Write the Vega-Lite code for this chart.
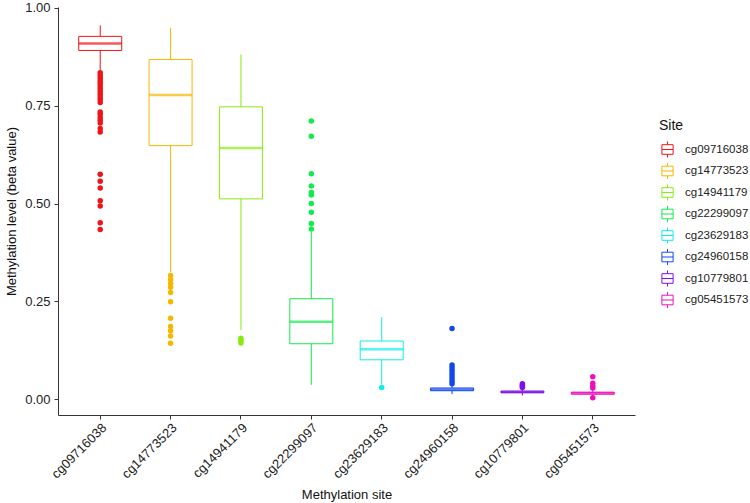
{
  "$schema": "https://vega.github.io/schema/vega-lite/v6.json",
  "width": 577,
  "height": 408,
  "autosize": {"type": "none"},
  "padding": {"left": 58, "top": 7, "right": 115, "bottom": 88},
  "background": "white",
  "config": {
    "view": {"stroke": null},
    "font": "Liberation Sans",
    "axis": {
      "labelFont": "Liberation Sans",
      "labelFontSize": 13,
      "labelColor": "#222222",
      "titleFont": "Liberation Sans",
      "titleFontSize": 13,
      "titleFontWeight": "normal",
      "titleColor": "#111111",
      "tickColor": "#333333",
      "domainColor": "#333333",
      "tickSize": 4,
      "grid": false
    }
  },
  "datasets": {
    "boxes": [
      {"site": "cg09716038", "lower": 0.838, "q1": 0.891, "median": 0.909, "q3": 0.927, "upper": 0.955},
      {"site": "cg14773523", "lower": 0.325, "q1": 0.648, "median": 0.777, "q3": 0.868, "upper": 0.949},
      {"site": "cg14941179", "lower": 0.177, "q1": 0.512, "median": 0.642, "q3": 0.747, "upper": 0.881},
      {"site": "cg22299097", "lower": 0.037, "q1": 0.142, "median": 0.198, "q3": 0.257, "upper": 0.428},
      {"site": "cg23629183", "lower": 0.038, "q1": 0.101, "median": 0.128, "q3": 0.149, "upper": 0.210},
      {"site": "cg24960158", "lower": 0.013, "q1": 0.022, "median": 0.025, "q3": 0.029, "upper": 0.036},
      {"site": "cg10779801", "lower": 0.010, "q1": 0.017, "median": 0.019, "q3": 0.021, "upper": 0.028},
      {"site": "cg05451573", "lower": 0.007, "q1": 0.013, "median": 0.016, "q3": 0.018, "upper": 0.024}
    ],
    "outliers": [
      {"site": "cg09716038", "value": 0.834},
      {"site": "cg09716038", "value": 0.827},
      {"site": "cg09716038", "value": 0.820},
      {"site": "cg09716038", "value": 0.813},
      {"site": "cg09716038", "value": 0.807},
      {"site": "cg09716038", "value": 0.800},
      {"site": "cg09716038", "value": 0.793},
      {"site": "cg09716038", "value": 0.786},
      {"site": "cg09716038", "value": 0.779},
      {"site": "cg09716038", "value": 0.772},
      {"site": "cg09716038", "value": 0.766},
      {"site": "cg09716038", "value": 0.758},
      {"site": "cg09716038", "value": 0.734},
      {"site": "cg09716038", "value": 0.728},
      {"site": "cg09716038", "value": 0.720},
      {"site": "cg09716038", "value": 0.713},
      {"site": "cg09716038", "value": 0.706},
      {"site": "cg09716038", "value": 0.692},
      {"site": "cg09716038", "value": 0.683},
      {"site": "cg09716038", "value": 0.575},
      {"site": "cg09716038", "value": 0.557},
      {"site": "cg09716038", "value": 0.540},
      {"site": "cg09716038", "value": 0.507},
      {"site": "cg09716038", "value": 0.494},
      {"site": "cg09716038", "value": 0.451},
      {"site": "cg09716038", "value": 0.434},
      {"site": "cg14773523", "value": 0.316},
      {"site": "cg14773523", "value": 0.306},
      {"site": "cg14773523", "value": 0.296},
      {"site": "cg14773523", "value": 0.286},
      {"site": "cg14773523", "value": 0.273},
      {"site": "cg14773523", "value": 0.249},
      {"site": "cg14773523", "value": 0.207},
      {"site": "cg14773523", "value": 0.186},
      {"site": "cg14773523", "value": 0.175},
      {"site": "cg14773523", "value": 0.162},
      {"site": "cg14773523", "value": 0.143},
      {"site": "cg14941179", "value": 0.156},
      {"site": "cg14941179", "value": 0.150},
      {"site": "cg14941179", "value": 0.144},
      {"site": "cg22299097", "value": 0.711},
      {"site": "cg22299097", "value": 0.672},
      {"site": "cg22299097", "value": 0.576},
      {"site": "cg22299097", "value": 0.545},
      {"site": "cg22299097", "value": 0.528},
      {"site": "cg22299097", "value": 0.522},
      {"site": "cg22299097", "value": 0.500},
      {"site": "cg22299097", "value": 0.478},
      {"site": "cg22299097", "value": 0.449},
      {"site": "cg22299097", "value": 0.435},
      {"site": "cg23629183", "value": 0.030},
      {"site": "cg24960158", "value": 0.181},
      {"site": "cg24960158", "value": 0.088},
      {"site": "cg24960158", "value": 0.081},
      {"site": "cg24960158", "value": 0.074},
      {"site": "cg24960158", "value": 0.067},
      {"site": "cg24960158", "value": 0.060},
      {"site": "cg24960158", "value": 0.053},
      {"site": "cg24960158", "value": 0.046},
      {"site": "cg24960158", "value": 0.040},
      {"site": "cg10779801", "value": 0.040},
      {"site": "cg10779801", "value": 0.036},
      {"site": "cg10779801", "value": 0.033},
      {"site": "cg10779801", "value": 0.030},
      {"site": "cg05451573", "value": 0.058},
      {"site": "cg05451573", "value": 0.041},
      {"site": "cg05451573", "value": 0.034},
      {"site": "cg05451573", "value": 0.029},
      {"site": "cg05451573", "value": 0.004}
    ]
  },
  "encoding": {
    "x": {
      "field": "site",
      "type": "nominal",
      "sort": ["cg09716038", "cg14773523", "cg14941179", "cg22299097", "cg23629183", "cg24960158", "cg10779801", "cg05451573"],
      "scale": {"type": "band", "paddingInner": 0, "paddingOuter": 0.1},
      "axis": {"title": "Methylation site", "labelAngle": -45, "labelAlign": "right", "labelBaseline": "top", "labelPadding": 2, "titlePadding": 8}
    }
  },
  "layer": [
    {
      "data": {"name": "boxes"},
      "mark": {"type": "rule", "strokeWidth": 1},
      "encoding": {
        "y": {
          "field": "lower",
          "type": "quantitative",
          "scale": {"domain": [-0.04, 1.002], "nice": false, "zero": false},
          "axis": {"title": "Methylation level (beta value)", "values": [0, 0.25, 0.5, 0.75, 1], "format": ".2f", "labelPadding": 4, "titlePadding": 6}
        },
        "y2": {"field": "upper"},
        "stroke": {
          "field": "site",
          "type": "nominal",
          "title": "Site",
          "sort": ["cg09716038", "cg14773523", "cg14941179", "cg22299097", "cg23629183", "cg24960158", "cg10779801", "cg05451573"],
          "scale": {
            "domain": ["cg09716038", "cg14773523", "cg14941179", "cg22299097", "cg23629183", "cg24960158", "cg10779801", "cg05451573"],
            "range": ["#F01418", "#F5B800", "#86EC10", "#10EC4C", "#10ECEC", "#1048EC", "#7E10EC", "#EC10BC"]
          },
          "legend": {
            "orient": "none",
            "legendX": 601,
            "legendY": 112,
            "padding": 0,
            "titleFont": "Liberation Sans",
            "titleFontSize": 14,
            "titleFontWeight": "normal",
            "titleColor": "#111111",
            "titlePadding": 8,
            "labelFont": "Liberation Sans",
            "labelFontSize": 11.5,
            "labelColor": "#222222",
            "labelOffset": 9,
            "rowPadding": 0.5,
            "symbolType": "M-0.7,-0.6H0.7V0.6H-0.7Z M-0.7,0H0.7 M0,-0.6V-1 M0,0.6V1",
            "symbolSize": 256,
            "symbolStrokeWidth": 1,
            "symbolFillColor": "transparent",
            "encode": {
              "symbols": {
                "update": {
                  "fill": {"value": "transparent"},
                  "fillOpacity": {"value": 0},
                  "strokeWidth": {"value": 1}
                }
              }
            }
          }
        }
      }
    },
    {
      "data": {"name": "boxes"},
      "mark": {"type": "bar", "size": 43, "fill": "white", "strokeWidth": 1},
      "encoding": {
        "y": {"field": "q1", "type": "quantitative"},
        "y2": {"field": "q3"},
        "stroke": {"field": "site", "type": "nominal"}
      }
    },
    {
      "data": {"name": "boxes"},
      "mark": {"type": "tick", "size": 43, "thickness": 2.5, "orient": "horizontal"},
      "encoding": {
        "y": {"field": "median", "type": "quantitative"},
        "fill": {
          "field": "site",
          "type": "nominal",
          "scale": {
            "domain": ["cg09716038", "cg14773523", "cg14941179", "cg22299097", "cg23629183", "cg24960158", "cg10779801", "cg05451573"],
            "range": ["#F01418", "#F5B800", "#86EC10", "#10EC4C", "#10ECEC", "#1048EC", "#7E10EC", "#EC10BC"]
          },
          "legend": null
        }
      }
    },
    {
      "data": {"name": "outliers"},
      "mark": {"type": "circle", "size": 30, "opacity": 1},
      "encoding": {
        "y": {"field": "value", "type": "quantitative"},
        "fill": {"field": "site", "type": "nominal", "legend": null}
      }
    }
  ],
  "resolve": {"scale": {"fill": "shared"}}
}
